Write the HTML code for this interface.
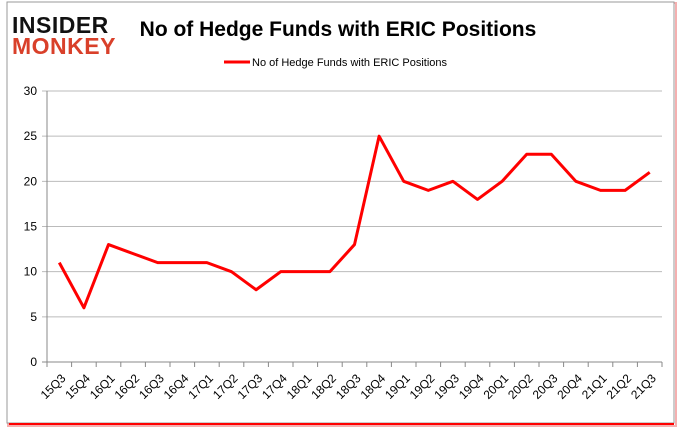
<!DOCTYPE html>
<html><head><meta charset="utf-8"><style>
body{margin:0;width:680px;height:433px;background:#fff;overflow:hidden;font-family:"Liberation Sans",sans-serif}
</style></head><body>
<svg width="680" height="433">
<rect x="8" y="3" width="668" height="423" fill="none" stroke="#f4b0b0" stroke-width="2"/>
<rect x="7" y="2" width="667" height="421" fill="#fff" stroke="#999" stroke-width="1"/>
<line x1="9" y1="424" x2="674" y2="424" stroke="#f00" stroke-width="2"/>
<g>
<text x="12" y="33" font-size="23" font-weight="bold" fill="#111" letter-spacing="0.5">INSIDER</text>
<text x="12" y="54" font-size="23" font-weight="bold" fill="#d9402a" letter-spacing="0.5">MONKEY</text>
</g>
<text x="338" y="36" text-anchor="middle" font-size="21" font-weight="bold" fill="#000">No of Hedge Funds with ERIC Positions</text>
<line x1="224" y1="62" x2="250" y2="62" stroke="#f00" stroke-width="3"/>
<text x="252" y="66" font-size="11" fill="#000">No of Hedge Funds with ERIC Positions</text>
<g id="grid"></g><g id="axes"></g><g id="series"></g>
</svg>
<script>
const categories=["15Q3","15Q4","16Q1","16Q2","16Q3","16Q4","17Q1","17Q2","17Q3","17Q4","18Q1","18Q2","18Q3","18Q4","19Q1","19Q2","19Q3","19Q4","20Q1","20Q2","20Q3","20Q4","21Q1","21Q2","21Q3"];
const values=[11,6,13,12,11,11,11,10,8,10,10,10,13,25,20,19,20,18,20,23,23,20,19,19,21];
const yTicks=[0,5,10,15,20,25,30];
const NS="http://www.w3.org/2000/svg";
const L=47,R=662,T=91,B=362,yMax=30;
const bw=(R-L)/categories.length;
const x=i=>L+bw*(i+0.5);
const y=v=>B-(v/yMax)*(B-T);
function mk(tag,attrs,parent){const e=document.createElementNS(NS,tag);for(const k in attrs)e.setAttribute(k,attrs[k]);document.getElementById(parent).appendChild(e);return e;}
yTicks.forEach(t=>{
 const g=mk('line',{x1:L-5,x2:R,y1:y(t),y2:y(t),stroke:t===0?'#888':'#bbb','stroke-width':1},'grid');
 
 
 const tx=mk('text',{x:L-10,y:y(t)+4,'text-anchor':'end','font-size':12,fill:'#000'},'axes');
 tx.textContent=t;
 
 
});
const ax=mk('line',{x1:L,x2:L,y1:T,y2:B,stroke:'#888'},'axes');


categories.forEach((c,i)=>{
 mk('line',{x1:L+bw*i,x2:L+bw*i,y1:B,y2:B+5,stroke:'#888'},'axes');
 const tx=mk('text',{x:x(i)+7,y:B+17,'text-anchor':'end','font-size':12,fill:'#000',transform:`rotate(-45 ${x(i)+7} ${B+17})`},'axes');
 tx.textContent=c;
 
 
});
mk('line',{x1:R,x2:R,y1:B,y2:B+5,stroke:'#888'},'axes');
const p=mk('polyline',{points:values.map((v,i)=>x(i)+','+y(v)).join(' '),fill:'none',stroke:'#f00','stroke-width':3,'stroke-linejoin':'round'},'series');


</script>
</body></html>
